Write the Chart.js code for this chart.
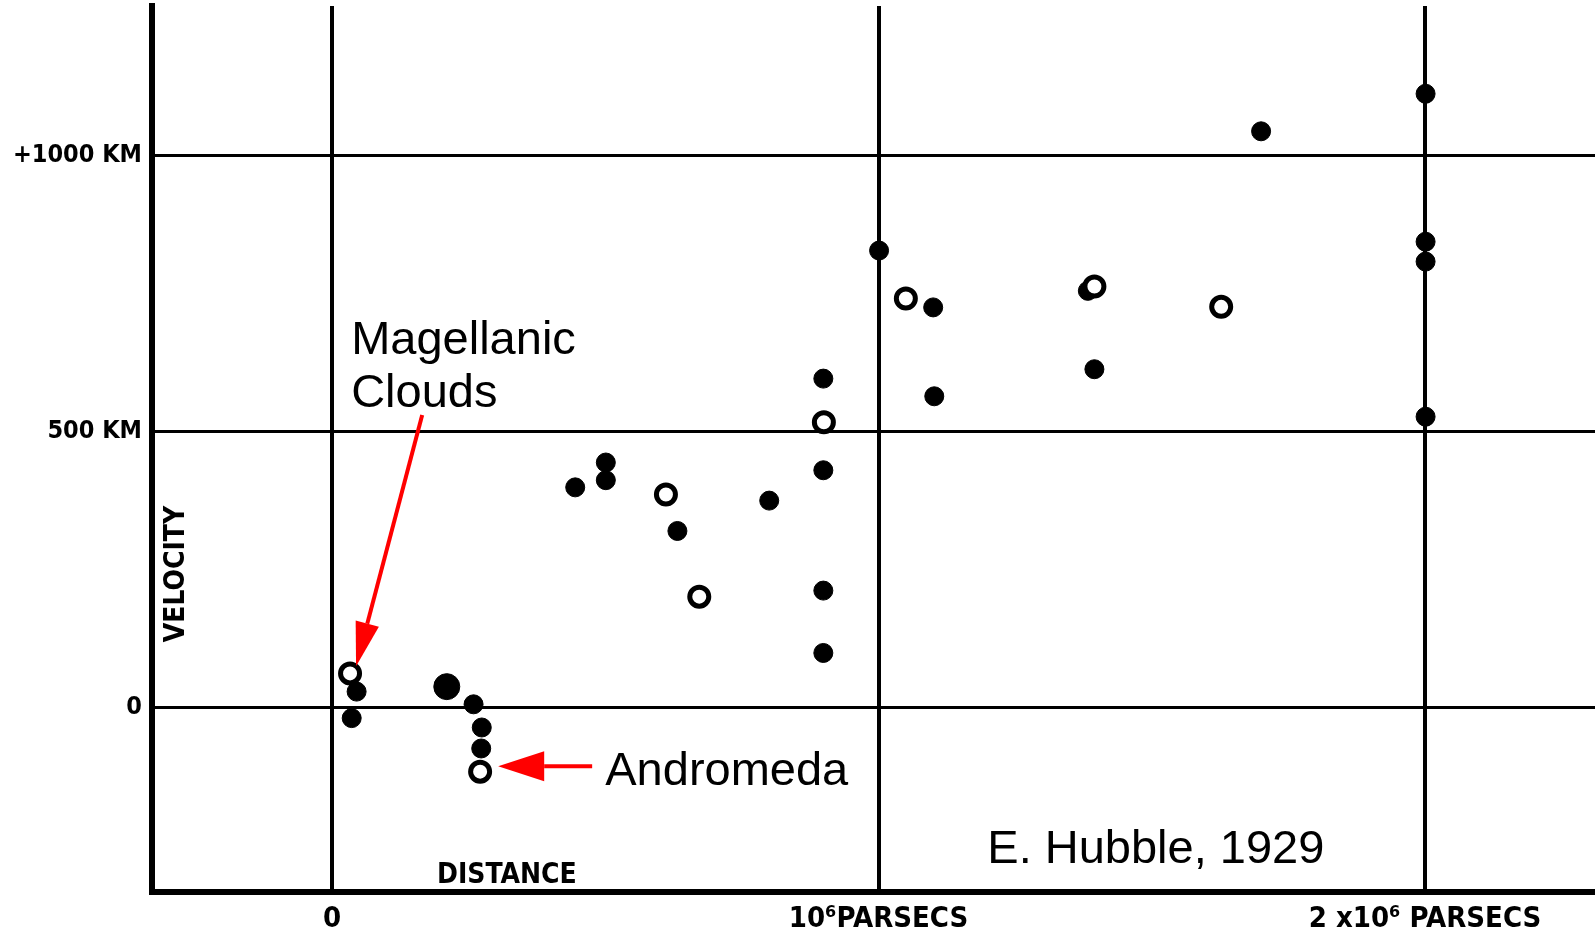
<!DOCTYPE html>
<html>
<head>
<meta charset="utf-8">
<title>Hubble 1929</title>
<script src="https://cdn.jsdelivr.net/npm/chart.js@4.4.0/dist/chart.umd.min.js"></script>
<style>
  html, body { margin: 0; padding: 0; background: #fff; }
  canvas { display: block; }
</style>
</head>
<body>
<canvas id="hubbleChart" width="1595" height="932"></canvas>
<script>
// distance in units of 10^6 parsecs, velocity in km/s
const filledDistance = [0.045, 0.036, 0.259, 0.274, 0.273, 0.445, 0.501, 0.501, 0.632, 0.800,
                        0.899, 0.899, 0.899, 0.899, 1.001, 1.100, 1.102, 1.395, 1.700,
                        2.001, 2.001, 2.001, 2.001];
const filledVelocity = [28, -20, 5, -37, -75, 398, 443, 411, 319, 374,
                        595, 429, 211, 98, 827, 724, 563, 612, 1043,
                        1111, 843, 807, 526];

const bigDistance = [0.21];
const bigVelocity = [37];

const hiddenDistance = [1.383];
const hiddenVelocity = [754];

const openDistance = [0.033, 0.271, 0.611, 0.672, 0.900, 1.050, 1.395, 1.627];
const openVelocity = [61, -117, 385, 200, 516, 740, 762, 725];

const xTickValues = [0, 1, 2];
const xTickLabels = ["0", "10\u2076PARSECS", "2 x10\u2076 PARSECS"];
const yTickValues = [0, 500, 1000];
const yTickLabels = ["0", "500 KM", "+1000 KM"];

function toPoints(xs, ys) {
    return xs.map((v, i) => ({ x: v, y: ys[i] }));
}

const labelFamily = "'DejaVu Sans Condensed', 'DejaVu Sans'";

// tick labels, axis names, notes and red arrows
const notes = {
    id: "notes",
    beforeDraw(chart) {
        const ctx = chart.ctx;
        ctx.save();
        ctx.fillStyle = "#fff";
        ctx.fillRect(0, 0, chart.width, chart.height);
        ctx.restore();
    },
    afterDatasetsDraw(chart) {
        const { ctx, scales: { x, y } } = chart;
        const px = v => x.getPixelForValue(v);
        const py = v => y.getPixelForValue(v);

        ctx.save();
        ctx.fillStyle = "#000";

        // tick labels
        ctx.font = "bold 25px " + labelFamily;
        ctx.textAlign = "right";
        ctx.textBaseline = "middle";
        y.ticks.forEach(t => {
            ctx.fillText(yTickLabels[yTickValues.indexOf(t.value)], y.right - 10, py(t.value));
        });
        ctx.font = "bold 29px " + labelFamily;
        ctx.textAlign = "center";
        ctx.textBaseline = "alphabetic";
        x.ticks.forEach(t => {
            ctx.fillText(xTickLabels[xTickValues.indexOf(t.value)], px(t.value), x.top + 35);
        });

        // axis names inside the frame
        ctx.font = "bold 28px " + labelFamily;
        ctx.textBaseline = "middle";
        ctx.fillText("DISTANCE", px(0.32), py(-306));
        ctx.save();
        ctx.translate(px(-0.284), py(241));
        ctx.rotate(-Math.PI / 2);
        ctx.fillText("VELOCITY", 0, 0);
        ctx.restore();

        ctx.font = "47px 'Liberation Sans'";
        ctx.textAlign = "left";
        ctx.textBaseline = "alphabetic";
        ctx.fillText("Magellanic", px(0.035), py(639));
        ctx.fillText("Clouds", px(0.035), py(543));
        ctx.fillText("Andromeda", px(0.5), py(-141));
        ctx.fillText("E. Hubble, 1929", px(1.199), py(-283));

        function arrow(x0, y0, x1, y1, len, half) {
            const a = Math.atan2(y1 - y0, x1 - x0);
            const bx = x1 - Math.cos(a) * len;
            const by = y1 - Math.sin(a) * len;
            ctx.strokeStyle = "#f00";
            ctx.fillStyle = "#f00";
            ctx.lineWidth = 4;
            ctx.beginPath();
            ctx.moveTo(x0, y0);
            ctx.lineTo(bx, by);
            ctx.stroke();
            ctx.beginPath();
            ctx.moveTo(x1, y1);
            ctx.lineTo(bx + Math.sin(a) * half, by - Math.cos(a) * half);
            ctx.lineTo(bx - Math.sin(a) * half, by + Math.cos(a) * half);
            ctx.closePath();
            ctx.fill();
        }
        arrow(px(0.165), py(529), px(0.044), py(74), 44, 12);
        arrow(px(0.476), py(-107), px(0.304), py(-107), 46, 15);
        ctx.restore();
    }
};

new Chart(document.getElementById("hubbleChart"), {
    type: "scatter",
    data: {
        datasets: [
            {
                label: "Nebulae",
                data: toPoints(filledDistance, filledVelocity),
                backgroundColor: "#000",
                borderColor: "#000",
                borderWidth: 1,
                pointRadius: 9.5
            },
            {
                label: "Large nebula",
                data: toPoints(bigDistance, bigVelocity),
                backgroundColor: "#000",
                borderColor: "#000",
                borderWidth: 1,
                pointRadius: 13
            },
            {
                label: "Groups",
                data: toPoints(openDistance, openVelocity),
                backgroundColor: "#fff",
                borderColor: "#000",
                borderWidth: 5,
                pointRadius: 9.5
            },
            {
                label: "Nebula behind group",
                data: toPoints(hiddenDistance, hiddenVelocity),
                backgroundColor: "#000",
                borderColor: "#000",
                borderWidth: 1,
                pointRadius: 9.5
            }
        ]
    },
    options: {
        responsive: false,
        animation: false,
        layout: { autoPadding: false, padding: { top: 6, right: 0, bottom: 0, left: 0 } },
        plugins: {
            legend: { display: false },
            tooltip: { enabled: false }
        },
        scales: {
            x: {
                type: "linear",
                min: -0.3294,
                max: 2.311,
                afterBuildTicks: axis => { axis.ticks = xTickValues.map(v => ({ value: v })); },
                afterFit: axis => { axis.height = 40; },
                ticks: { display: false },
                grid: { color: "#000", lineWidth: 4, drawTicks: false },
                border: { color: "#000", width: 6 }
            },
            y: {
                type: "linear",
                min: -335,
                max: 1270,
                afterBuildTicks: axis => { axis.ticks = yTickValues.map(v => ({ value: v })); },
                afterFit: axis => { axis.width = 152; },
                ticks: { display: false },
                grid: { color: "#000", lineWidth: 3, drawTicks: false },
                border: { color: "#000", width: 6 }
            }
        }
    },
    plugins: [notes]
});
</script>
</body>
</html>
